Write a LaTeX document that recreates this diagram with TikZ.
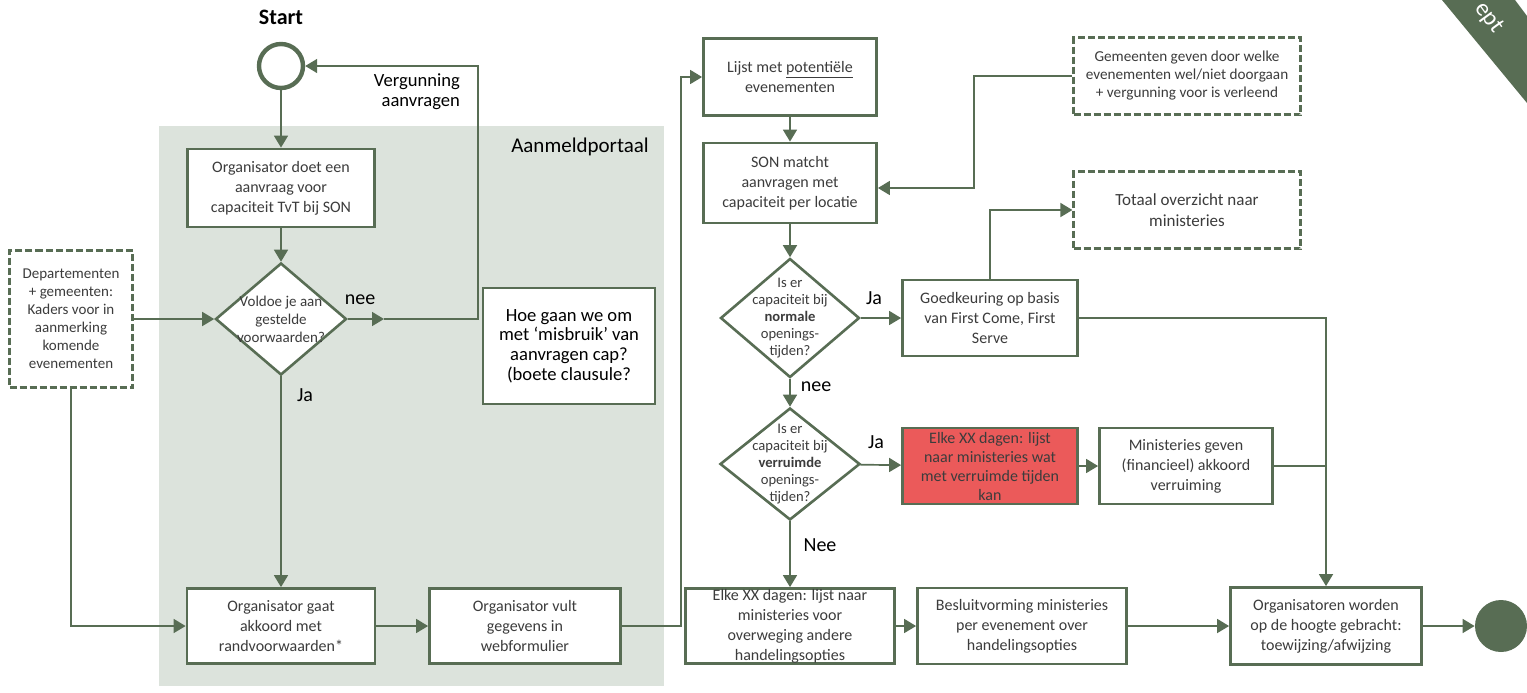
\documentclass[tikz,border=0pt]{standalone}
\usepackage{fontspec}
\setmainfont{Carlito}
\usetikzlibrary{arrows.meta,shapes.geometric}

\definecolor{lineGreen}{HTML}{586D54}
\definecolor{portalGray}{HTML}{DCE3DC}
\definecolor{alertRed}{HTML}{EB5A5A}
\definecolor{textGray}{HTML}{3C3C3C}

\begin{document}
\begin{tikzpicture}[x=0.5pt, y=-0.5pt,
    boxStyle/.style={rectangle, draw=lineGreen, line width=1.4pt, fill=white, align=center, text=textGray, font=\fontsize{8}{10}\selectfont, inner sep=1pt},
    dashStyle/.style={boxStyle, dash pattern=on 3.5pt off 1.5pt, line width=1.1pt},
    decisionStyle/.style={diamond, draw=lineGreen, line width=1.3pt, fill=white, inner sep=0pt},
    decisionText/.style={align=center, text=textGray, font=\fontsize{7.3}{8.5}\selectfont},
    labelStyle/.style={font=\fontsize{10}{11}\selectfont},
    arrowStyle/.style={draw=lineGreen, line width=0.85pt, -{Triangle[length=6pt,width=7pt]}},
    lineStyle/.style={draw=lineGreen, line width=0.85pt}]
                    \useasboundingbox (0, 0) rectangle (1527, 692);

                    % aanmeldportaal
                    \fill[portalGray] (159, 126) rectangle (664, 686);
                    \node[labelStyle, font=\fontsize{10.5}{12}\selectfont] (portal_lbl) at (580, 147) {Aanmeldportaal};

                    % concept corner
                    \fill[lineGreen] (1442, 0) -- (1515, 0) -- (1527, 16) -- (1527, 103) -- cycle;
                    \node[text=white, rotate=-54, inner sep=0pt, font=\fontsize{12}{14}\selectfont] (badge) at (1489, 18) {ept};

                    \node[labelStyle, font=\bfseries\fontsize{11}{12}\selectfont] (start_lbl) at (281, 17) {Start};
                    \node[circle, draw=lineGreen, line width=2.2pt, minimum size=22pt, inner sep=0pt] (start_0) at (281, 66) {};
                    \node[labelStyle, align=right, anchor=east, font=\fontsize{9.3}{10}\selectfont] (verg_lbl) at (467, 92) {Vergunning\\aanvragen};

                    \node[boxStyle, minimum width=93.5pt, minimum height=39pt] (org_0) at (281, 188) {Organisator doet een\\aanvraag voor\\capaciteit TvT bij SON};
                    \node[decisionStyle, minimum width=65.5pt, minimum height=56pt] (dec_0) at (281, 319) {};
                    \node[decisionText, font=\fontsize{7.5}{9}\selectfont] (dec_0_txt) at (dec_0) {Voldoe je aan\\gestelde\\voorwaarden?};
                    \node[dashStyle, minimum width=61.5pt, minimum height=68.5pt, font=\fontsize{7.5}{9}\selectfont] (dep) at (71, 319) {Departementen\\+ gemeenten:\\Kaders voor in\\aanmerking\\komende\\evenementen};
                    \node[boxStyle, minimum width=86pt, minimum height=58pt, text=black, font=\fontsize{9.3}{9.8}\selectfont] (misbruik) at (569, 346) {Hoe gaan we om\\met ‘misbruik’ van\\aanvragen cap?\\(boete clausule?};
                    \node[boxStyle, minimum width=94pt, minimum height=37.5pt] (org_1) at (281, 626) {Organisator gaat\\akkoord met\\randvoorwaarden*};
                    \node[boxStyle, minimum width=95.5pt, minimum height=37.5pt] (org_2) at (525, 626) {Organisator vult\\gegevens in\\webformulier};

                    \node[boxStyle, minimum width=86.5pt, minimum height=38.5pt] (lijst) at (790, 77) {Lijst met \underline{potentiële}\\evenementen};
                    \node[boxStyle, minimum width=86.5pt, minimum height=40pt] (son) at (790, 183) {SON matcht\\aanvragen met\\capaciteit per locatie};
                    \node[dashStyle, minimum width=113.5pt, minimum height=38.5pt, font=\fontsize{7.6}{9}\selectfont] (gem) at (1187, 76) {Gemeenten geven door welke\\evenementen wel/niet doorgaan\\+ vergunning voor is verleend};
                    \node[dashStyle, minimum width=113.5pt, minimum height=38.5pt, font=\fontsize{8.5}{10.5}\selectfont] (totaal) at (1187, 210) {Totaal overzicht naar\\ministeries};

                    \node[decisionStyle, minimum width=69.5pt, minimum height=59.5pt] (dec_1) at (790, 318) {};
                    \node[decisionText] (dec_1_txt) at (dec_1) {Is er\\capaciteit bij\\\textbf{normale}\\openings-\\tijden?};
                    \node[boxStyle, minimum width=87.5pt, minimum height=38pt] (goed) at (990, 318) {Goedkeuring op basis\\van First Come, First\\Serve};

                    \node[decisionStyle, minimum width=70pt, minimum height=56pt] (dec_2) at (790, 464) {};
                    \node[decisionText] (dec_2_txt) at (dec_2) {Is er\\capaciteit bij\\\textbf{verruimde}\\openings-\\tijden?};
                    \node[boxStyle, fill=alertRed, inner ysep=0pt, minimum width=87.5pt, minimum height=38pt, font=\fontsize{8}{9.5}\selectfont] (xx_0) at (990, 466) {Elke XX dagen: lijst\\naar ministeries wat\\met verruimde tijden\\kan};
                    \node[boxStyle, minimum width=86.5pt, minimum height=38pt] (minist) at (1186, 466) {Ministeries geven\\(financieel) akkoord\\verruiming};

                    \node[boxStyle, inner ysep=0pt, minimum width=104.5pt, minimum height=37.5pt] (xx_1) at (790, 626) {Elke XX dagen: lijst naar\\ministeries voor\\overweging andere\\handelingsopties};
                    \node[boxStyle, minimum width=104.5pt, minimum height=38pt] (besluit) at (1022, 626) {Besluitvorming ministeries\\per evenement over\\handelingsopties};
                    \node[boxStyle, minimum width=95.5pt, minimum height=38.5pt] (orgs) at (1326, 626) {Organisatoren worden\\op de hoogte gebracht:\\toewijzing/afwijzing};
                    \node[circle, fill=lineGreen, minimum size=26pt, inner sep=0pt] (end_0) at (1501, 626) {};

                    \node[labelStyle] (nee_0) at (360, 300) {nee};
                    \node[labelStyle] (ja_0)  at (305, 395) {Ja};
                    \node[labelStyle] (ja_1)  at (874, 298) {Ja};
                    \node[labelStyle] (nee_1) at (816, 387) {nee};
                    \node[labelStyle] (ja_2)  at (876, 442) {Ja};
                    \node[labelStyle] (nee_2) at (820, 545) {Nee};

                    \coordinate (nee_tip)    at (384, 319);
                    \coordinate (verg_turn)  at (478, 66);
                    \coordinate (dep_turn)   at (71, 626);
                    \coordinate (lijst_turn) at (681, 626);
                    \coordinate (gem_turn)   at (974, 188);

                    \draw[arrowStyle] (start_0) -- (org_0);
                    \draw[arrowStyle] (org_0) -- (dec_0);
                    \draw[arrowStyle] (dep) -- (dec_0);
                    \draw[arrowStyle] (dec_0) -- (org_1);
                    \draw[arrowStyle] (dec_0) -- (nee_tip);
                    \draw[arrowStyle] (nee_tip) -| (verg_turn) -- (start_0);
                    \draw[arrowStyle] (dep) -- (dep_turn) -- (org_1);
                    \draw[arrowStyle] (org_1) -- (org_2);
                    \draw[arrowStyle] (org_2) -- (lijst_turn) |- (lijst);

                    \draw[arrowStyle] (lijst) -- (son);
                    \draw[arrowStyle] (gem) -| (gem_turn) -- (son.east |- gem_turn);
                    \draw[arrowStyle] (son) -- (dec_1);
                    \draw[arrowStyle] (dec_1) -- (goed);
                    \draw[arrowStyle] (goed) |- (totaal);
                    \draw[arrowStyle] (goed) -| (orgs);
                    \draw[lineStyle] (minist) -- (minist -| orgs);
                    \draw[arrowStyle] (dec_1) -- (dec_2);
                    \draw[arrowStyle] (dec_2) -- (xx_0);
                    \draw[arrowStyle] (xx_0) -- (minist);
                    \draw[arrowStyle] (dec_2) -- (xx_1);
                    \draw[arrowStyle] (xx_1) -- (besluit);
                    \draw[arrowStyle] (besluit) -- (orgs);
                    \draw[arrowStyle] (orgs) -- (end_0);
                \end{tikzpicture}
\end{document}
